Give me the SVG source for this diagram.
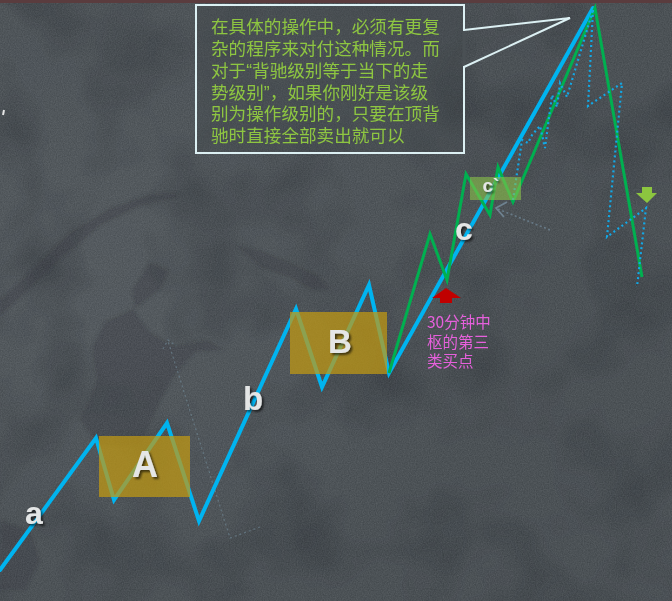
<svg xmlns="http://www.w3.org/2000/svg" width="672" height="601" viewBox="0 0 672 601">
<defs>
<style>
.blue{fill:none;stroke:#00b4f0;stroke-width:4;stroke-linejoin:miter;stroke-linecap:round}
.green{fill:none;stroke:#00b050;stroke-width:3;stroke-linejoin:miter}
.dot{fill:none;stroke:#13a8e6;stroke-width:2.2;stroke-dasharray:2 3}
.faint{fill:none;stroke:#7a98a8;stroke-width:1.2;stroke-dasharray:2 3;opacity:0.5}
.box{fill:#c29a12;opacity:0.72}
.lbl{font-family:"Liberation Sans",Arial,sans-serif;font-weight:bold;fill:#e4e6e6;text-anchor:middle;filter:url(#sh)}
.note{font-family:"Noto Sans CJK SC","Noto Sans",sans-serif;font-size:17.6px;fill:#8ec641}
.q{font-family:"Liberation Sans",Arial,sans-serif}
.pink{font-family:"Noto Sans CJK SC","Noto Sans",sans-serif;font-size:15.5px;fill:#e660dc}
.blob{fill:#2c3134;opacity:0.3}
</style>
<filter id="sh" x="-30%" y="-30%" width="160%" height="160%">
<feDropShadow dx="2" dy="2" stdDeviation="1.2" flood-color="#000" flood-opacity="0.6"/>
</filter>
<filter id="grain" x="0" y="0" width="100%" height="100%" color-interpolation-filters="sRGB">
<feTurbulence type="fractalNoise" baseFrequency="0.85" numOctaves="2" seed="3"/>
<feColorMatrix type="matrix" values="0.6 0 0 0 0.05  0.6 0 0 0 0.07  0.6 0 0 0 0.09  0 0 0 0 0.18"/>
</filter>
<filter id="mottle" x="0" y="0" width="100%" height="100%" color-interpolation-filters="sRGB">
<feTurbulence type="fractalNoise" baseFrequency="0.012" numOctaves="3" seed="7"/>
<feColorMatrix type="matrix" values="0 0 0 0 0.2  0 0 0 0 0.22  0 0 0 0 0.24  0 0 0 1.4 -0.6"/>
</filter>
<filter id="blur"><feGaussianBlur stdDeviation="1.5"/></filter>
<radialGradient id="lt" cx="0.15" cy="0.45" r="0.6">
<stop offset="0" stop-color="#60666b" stop-opacity="0.5"/>
<stop offset="1" stop-color="#60666b" stop-opacity="0"/>
</radialGradient>
</defs>

<g id="background">
<rect width="672" height="601" fill="#4a5054"/>
<rect width="672" height="601" fill="url(#lt)"/>
<rect width="672" height="601" filter="url(#mottle)"/>
<g filter="url(#blur)">
<path class="blob" d="M150,262 L168,270 L160,290 L140,305 L105,322 L92,348 L97,382 L80,420 L98,445 L140,445 L160,402 L175,375 L195,352 L225,350 L208,340 L175,346 L150,332 L135,312 L132,290 Z"/>
<path class="blob" d="M235,245 L260,250 L290,262 L318,275 L330,290 L312,290 L290,278 L262,268 Z"/>
<path class="blob" d="M0,300 L40,262 L70,232 L110,208 L150,194 L180,192 L176,198 L140,206 L100,226 L60,260 L20,298 L0,316 Z" opacity="0.12"/>
<path class="blob" d="M0,520 L30,530 L40,560 L25,590 L0,590 Z"/>
</g>
<rect width="672" height="601" filter="url(#grain)"/>
<rect x="0" y="0" width="672" height="3" fill="#5a3c3e"/>
<line x1="4" y1="110" x2="3" y2="115" stroke="#e6e6e6" stroke-width="2"/>
</g>

<g id="connectors">
<polyline class="faint" points="260,527 230,538 168,341"/>
<polyline class="faint" points="163,349 168,340 176,346"/>
<polyline class="blue" points="0,570 96,438 114,500 167,423 199,521 296,309 322,387 369,285 389,373 593,8"/>
<polyline class="green" points="389,373 430,234 447,280 466,174 490,215 498,167 513,202 595,8 642,277"/>
<polyline class="dot" points="513,200 522,140 528,143 532,135 540,126 545,148 552,95 557,107 560,83 567,97 593,10"/>
<polyline class="dot" points="593,10 588,106 622,83 607,237 646,208 637,287"/>
<polyline fill="none" stroke="#6e8494" stroke-width="1.6" stroke-dasharray="2 2.5" opacity="0.8" points="550,230 498,209"/>
<polyline fill="none" stroke="#7890a0" stroke-width="1.8" opacity="0.8" points="507,202 496,208 504,217"/>
</g>

<g id="box-A">
<rect class="box" x="99" y="436" width="91" height="61"/>
<text class="lbl" x="145" y="477" font-size="36">A</text>
</g>
<g id="box-B">
<rect class="box" x="290" y="312" width="97" height="62"/>
<text class="lbl" x="340" y="353" font-size="33">B</text>
</g>
<g id="box-c2">
<rect x="470" y="177" width="51" height="23" fill="#8bc34a" opacity="0.6"/>
<text class="lbl" x="491" y="192" font-size="19">c`</text>
</g>

<g id="label-a"><text class="lbl" x="34" y="524" font-size="32">a</text></g>
<g id="label-b"><text class="lbl" x="253" y="410" font-size="33">b</text></g>
<g id="label-c"><text class="lbl" x="464" y="240" font-size="32">c</text></g>

<g id="buy-arrow">
<polygon points="446,288 461,298 452,298 452,303 440,303 440,298 432,298" fill="#c00000"/>
<text class="pink"><tspan x="427" y="328">30分钟中</tspan><tspan x="427" y="348">枢的第三</tspan><tspan x="427" y="367">类买点</tspan></text>
</g>

<g id="sell-arrow">
<polygon points="642,187 652,187 652,193 657,193 647,203 636,193 642,193" fill="#8cc63f"/>
</g>

<g id="note">
<rect x="196" y="5" width="268" height="148" fill="#3f4549" fill-opacity="0.3" stroke="#dcf0f3" stroke-width="2"/>
<line x1="464" y1="31" x2="464" y2="66" stroke="#4a5054" stroke-width="3"/>
<polyline points="464,30 570,18 464,67" fill="none" stroke="#dcf0f3" stroke-width="2"/>
<text class="note"><tspan x="211" y="33">在具体的操作中，必须有更复</tspan><tspan x="211" y="55">杂的程序来对付这种情况。而</tspan><tspan x="211" y="77">对于<tspan class="q">“</tspan>背驰级别等于当下的走</tspan><tspan x="211" y="99">势级别<tspan class="q">”</tspan>，如果你刚好是该级</tspan><tspan x="211" y="120">别为操作级别的，只要在顶背</tspan><tspan x="211" y="142">驰时直接全部卖出就可以</tspan></text>
</g>
</svg>
